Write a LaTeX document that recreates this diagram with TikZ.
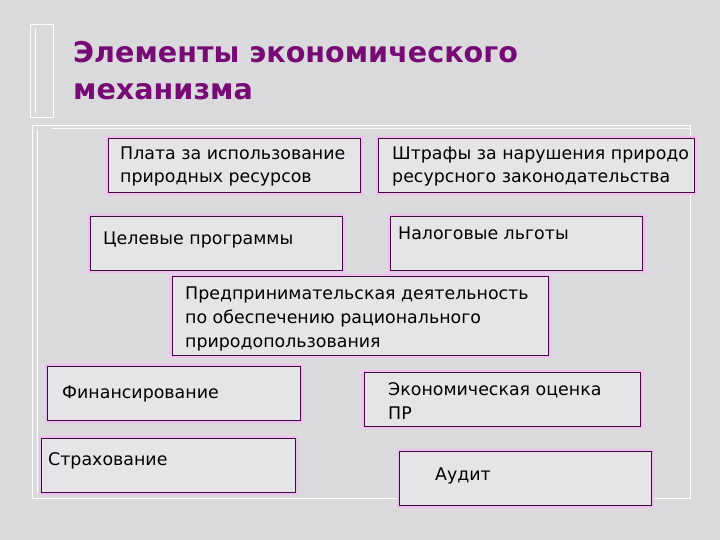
\documentclass[tikz,border=0pt]{standalone}
\usepackage{fontspec}
\setmainfont{DejaVu Sans}
\usetikzlibrary{positioning}

\definecolor{marble}{HTML}{DADADC}
\definecolor{boxfill}{HTML}{E5E5E8}
\definecolor{titlepurple}{HTML}{780A76}
\definecolor{boxline}{HTML}{3E0C3A}
\definecolor{boxglow}{HTML}{EFC0EF}

\tikzset{
  frameline/.style={draw=white, line width=0.9pt},
  itembox/.style={draw=boxline, line width=1.2pt, fill=boxfill,
    preaction={draw=boxglow, line width=4.5pt},
    inner sep=0pt, anchor=north west},
  itemtext/.style={anchor=base west, align=left, inner sep=0pt,
    font=\fontsize{17.4}{24}\selectfont}
}

\begin{document}
\begin{tikzpicture}[x=1pt,y=-1pt]
  \useasboundingbox (0,0) rectangle (720,540);
  \fill[marble] (0,0) rectangle (720,540);

  % template frame
  \draw[frameline] (30,24) rectangle (53,117);
  \draw[frameline] (35,28) -- (35,113);
  \draw[frameline] (32,125) rectangle (690,498);
  \draw[frameline] (52,128) -- (690,128);
  \draw[frameline] (37,130) -- (37,492);

  % title (base = last line)
  \node[anchor=base west, align=left, inner sep=0pt, text=titlepurple,
        font=\bfseries\fontsize{28.6}{37}\selectfont] (title) at (73,100)
        {Элементы экономического\\механизма};

  % boxes
  \node[itembox, minimum width=252, minimum height=54] (plata) at (108,138) {};
  \node[itembox, minimum width=316, minimum height=54] (shtrafy) at (378,138) {};
  \node[itembox, minimum width=252, minimum height=54] (celevye) at (90,216) {};
  \node[itembox, minimum width=252, minimum height=54] (lgoty) at (390,216) {};
  \node[itembox, minimum width=376, minimum height=79] (predpr) at (172,276) {};
  \node[itembox, minimum width=253, minimum height=54] (finans) at (47,366) {};
  \node[itembox, minimum width=254, minimum height=54] (strakh) at (41,438) {};
  \node[itembox, minimum width=276, minimum height=54] (ocenka) at (364,372) {};
  \node[itembox, minimum width=252, minimum height=54] (audit) at (399,451) {};

  % texts (base = last line)
  \node[itemtext] (plataT) at (120,183) {Плата за использование\\природных ресурсов};
  \node[itemtext] (shtrafyT) at (392,183) {Штрафы за нарушения природо\\ресурсного законодательства};
  \node[itemtext] (celevyeT) at (103,244) {Целевые программы};
  \node[itemtext] (lgotyT) at (398,240) {Налоговые льготы};
  \node[itemtext] (predprT) at (185,347) {Предпринимательская деятельность\\по обеспечению рационального\\природопользования};
  \node[itemtext] (finansT) at (62,398) {Финансирование};
  \node[itemtext] (strakhT) at (48,465) {Страхование};
  \node[itemtext] (ocenkaT) at (388,419) {Экономическая оценка\\ПР};
  \node[itemtext] (auditT) at (435,480) {Аудит};
\end{tikzpicture}
\end{document}
